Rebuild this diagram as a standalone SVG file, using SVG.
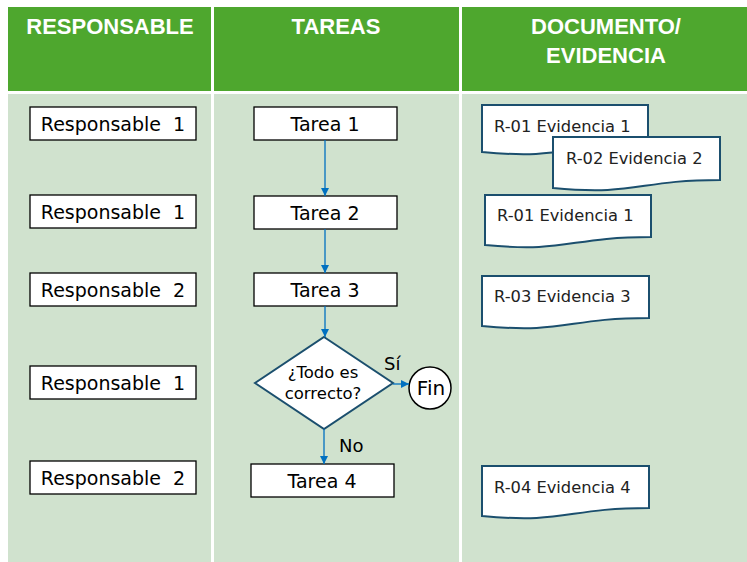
<svg xmlns="http://www.w3.org/2000/svg" width="747" height="562" viewBox="0 0 747 562">
<defs>
<style>
.hdr{fill:#4EA72E}
.body{fill:#D0E2CE}
.htxt{font-family:"Liberation Sans",Arial,sans-serif;font-weight:bold;font-size:22px;fill:#fff;text-anchor:middle}
.box{fill:#fff;stroke:#000;stroke-width:1.3}
.txt{font-family:"DejaVu Sans",Verdana,sans-serif;font-size:19px;fill:#000;text-anchor:middle}
.doc{fill:#fff;stroke:#1B4F6E;stroke-width:2}
.dtxt{font-family:"DejaVu Sans",Verdana,sans-serif;font-size:16.3px;fill:#222}
.dia{fill:#fff;stroke:#1B4F6E;stroke-width:2}
.conn{stroke:#0070C0;stroke-width:1.3;fill:none;marker-end:url(#arr)}
.lbl{font-family:"DejaVu Sans",Verdana,sans-serif;font-size:18px;fill:#000}
</style>
<marker id="arr" viewBox="0 0 10 10" refX="10" refY="5" markerWidth="8" markerHeight="8" markerUnits="userSpaceOnUse" orient="auto">
<path d="M0,0 L10,5 L0,10 Z" fill="#0070C0"/>
</marker>
</defs>
<rect width="747" height="562" fill="#fff"/>
<g id="table">
<rect class="hdr" x="8" y="7" width="203" height="84"/>
<rect class="hdr" x="214" y="7" width="245" height="84"/>
<rect class="hdr" x="462" y="7" width="285" height="84"/>
<rect class="body" x="8" y="94" width="203" height="468"/>
<rect class="body" x="214" y="94" width="245" height="468"/>
<rect class="body" x="462" y="94" width="285" height="468"/>
<text class="htxt" x="110" y="34">RESPONSABLE</text>
<text class="htxt" x="336" y="34">TAREAS</text>
<text class="htxt" x="606" y="34">DOCUMENTO/</text>
<text class="htxt" x="606" y="63">EVIDENCIA</text>
</g>
<g id="resp1"><rect class="box" x="30" y="107" width="166" height="33"/><text class="txt" x="113" y="131" xml:space="preserve">Responsable  1</text></g>
<g id="resp2"><rect class="box" x="30" y="195" width="166" height="33"/><text class="txt" x="113" y="219" xml:space="preserve">Responsable  1</text></g>
<g id="resp3"><rect class="box" x="30" y="273" width="166" height="33"/><text class="txt" x="113" y="297" xml:space="preserve">Responsable  2</text></g>
<g id="resp4"><rect class="box" x="30" y="366" width="166" height="33"/><text class="txt" x="113" y="390" xml:space="preserve">Responsable  1</text></g>
<g id="resp5"><rect class="box" x="30" y="461" width="166" height="33"/><text class="txt" x="113" y="485" xml:space="preserve">Responsable  2</text></g>
<g id="tarea1"><rect class="box" x="254" y="107" width="143" height="33"/><text class="txt" x="325" y="131">Tarea 1</text></g>
<g id="tarea2"><rect class="box" x="254" y="196" width="143" height="33"/><text class="txt" x="325" y="220">Tarea 2</text></g>
<g id="tarea3"><rect class="box" x="254" y="273" width="143" height="33"/><text class="txt" x="325" y="297">Tarea 3</text></g>
<g id="decision"><path class="dia" d="M324,337 L393,383 L324,429 L255,383 Z"/><text class="lbl" x="323" y="378" text-anchor="middle" style="font-size:16.5px">¿Todo es</text><text class="lbl" x="323" y="399" text-anchor="middle" style="font-size:16.5px">correcto?</text></g>
<g id="fin"><circle cx="430" cy="388" r="21" fill="#fff" stroke="#000" stroke-width="1.5"/><text class="txt" x="431" y="395" style="font-size:20px">Fin</text></g>
<g id="tarea4"><rect class="box" x="251" y="464" width="143" height="33"/><text class="txt" x="322" y="488">Tarea 4</text></g>
<g id="doc1"><path class="doc" d="M482,105 H648 V144 C565,144 565,160 482,152 Z"/><text class="dtxt" x="494" y="132">R-01 Evidencia 1</text></g>
<g id="doc2"><path class="doc" d="M553,137 H720 V180 C637,180 637,196 553,188 Z"/><text class="dtxt" x="566" y="164">R-02 Evidencia 2</text></g>
<g id="doc3"><path class="doc" d="M485,195 H651 V237 C568,237 568,253 485,245 Z"/><text class="dtxt" x="497" y="221">R-01 Evidencia 1</text></g>
<g id="doc4"><path class="doc" d="M482,276 H649 V318 C566,318 566,334 482,326 Z"/><text class="dtxt" x="494" y="302">R-03 Evidencia 3</text></g>
<g id="doc5"><path class="doc" d="M482,466 H649 V508 C566,508 566,524 482,516 Z"/><text class="dtxt" x="494" y="493">R-04 Evidencia 4</text></g>
<g id="connectors">
<line class="conn" x1="325" y1="140" x2="325" y2="196"/>
<line class="conn" x1="325" y1="229" x2="325" y2="273"/>
<line class="conn" x1="325" y1="306" x2="325" y2="337"/>
<line class="conn" x1="393" y1="384" x2="409" y2="384"/>
<line class="conn" x1="324" y1="429" x2="324" y2="464"/>
<text class="lbl" x="384" y="370">Sí</text>
<text class="lbl" x="339" y="452">No</text>
</g>
</svg>
